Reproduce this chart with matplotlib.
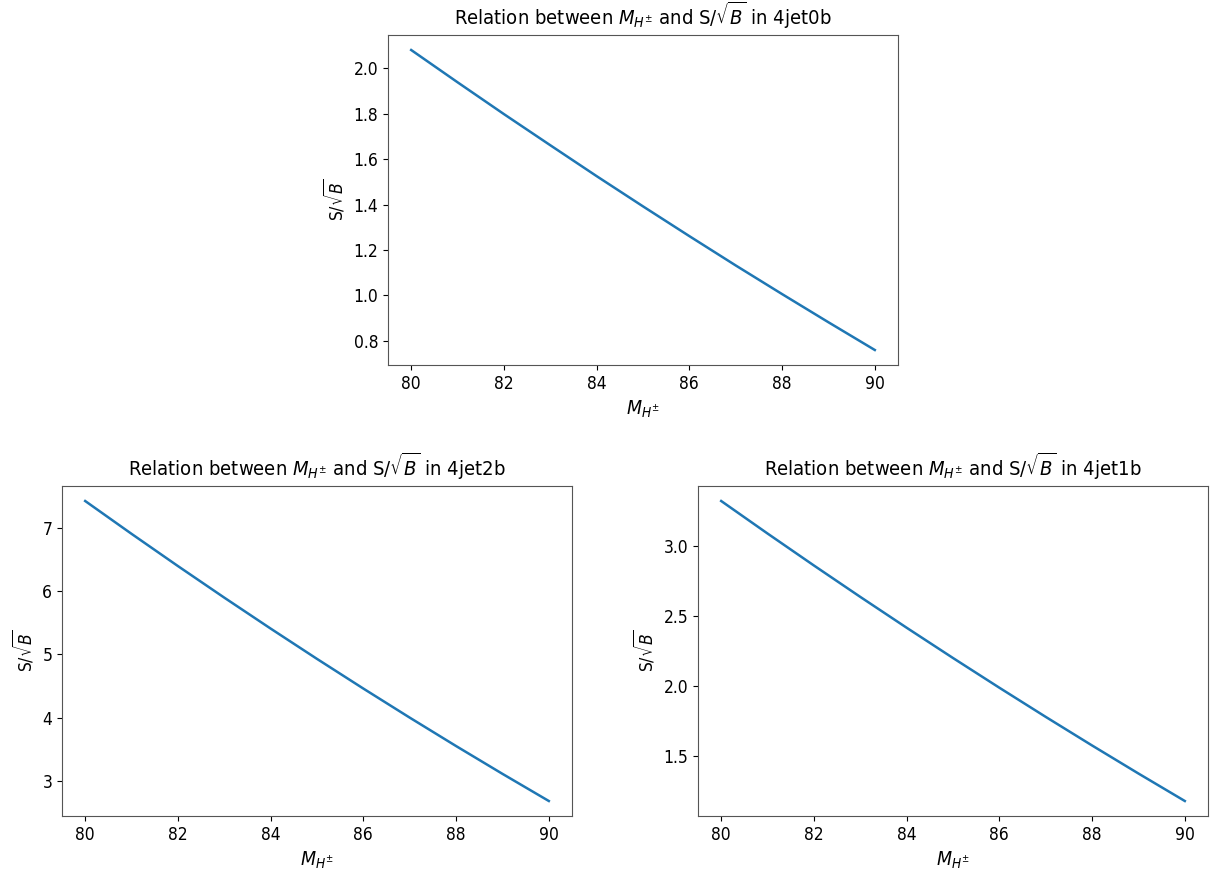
import matplotlib
matplotlib.use("Agg")
import matplotlib.pyplot as plt

mass = [80, 81, 82, 83, 84, 85, 86, 87, 88, 89, 90]
sig_0b = [2.080, 1.938, 1.798, 1.661, 1.525, 1.392, 1.261, 1.132, 1.006, 0.882, 0.760]
sig_2b = [7.43, 6.91, 6.40, 5.90, 5.41, 4.93, 4.46, 4.00, 3.55, 3.11, 2.68]
sig_1b = [3.320, 3.088, 2.860, 2.636, 2.416, 2.200, 1.988, 1.780, 1.576, 1.376, 1.180]

xticks = [80, 82, 84, 86, 88, 90]

plt.rcParams['font.family'] = ['DejaVu Sans']
plt.rcParams['font.stretch'] = 'condensed'
plt.rcParams['mathtext.fontset'] = 'dejavusans'
plt.rcParams['xtick.labelsize'] = 12.5
plt.rcParams['ytick.labelsize'] = 12.5

fig = plt.figure(figsize=(12.11, 8.69), dpi=100)

W = 510 / 1211
H = 330 / 869
specs = [
    (388 / 1211, 1 - 365 / 869, sig_0b, '4jet0b'),
    (62 / 1211, 1 - 816 / 869, sig_2b, '4jet2b'),
    (698 / 1211, 1 - 816 / 869, sig_1b, '4jet1b'),
]
for left, bottom, vals, tag in specs:
    ax = fig.add_axes([left, bottom, W, H])
    ax.plot(mass, vals, color='#1f77b4', linewidth=1.8)
    ax.set_xticks(xticks)
    ax.set_title(r'Relation between $M_{H^{\pm}}$ and S/$\sqrt{B}$ in ' + tag,
                 fontsize=14.5, pad=7)
    ax.set_xlabel(r'$M_{H^{\pm}}$', fontsize=14)
    ax.set_ylabel(r'S/$\sqrt{B}$', fontsize=12.5)
    for s in ax.spines.values():
        s.set_color('#555555')

fig.savefig('out.png', dpi=100)
